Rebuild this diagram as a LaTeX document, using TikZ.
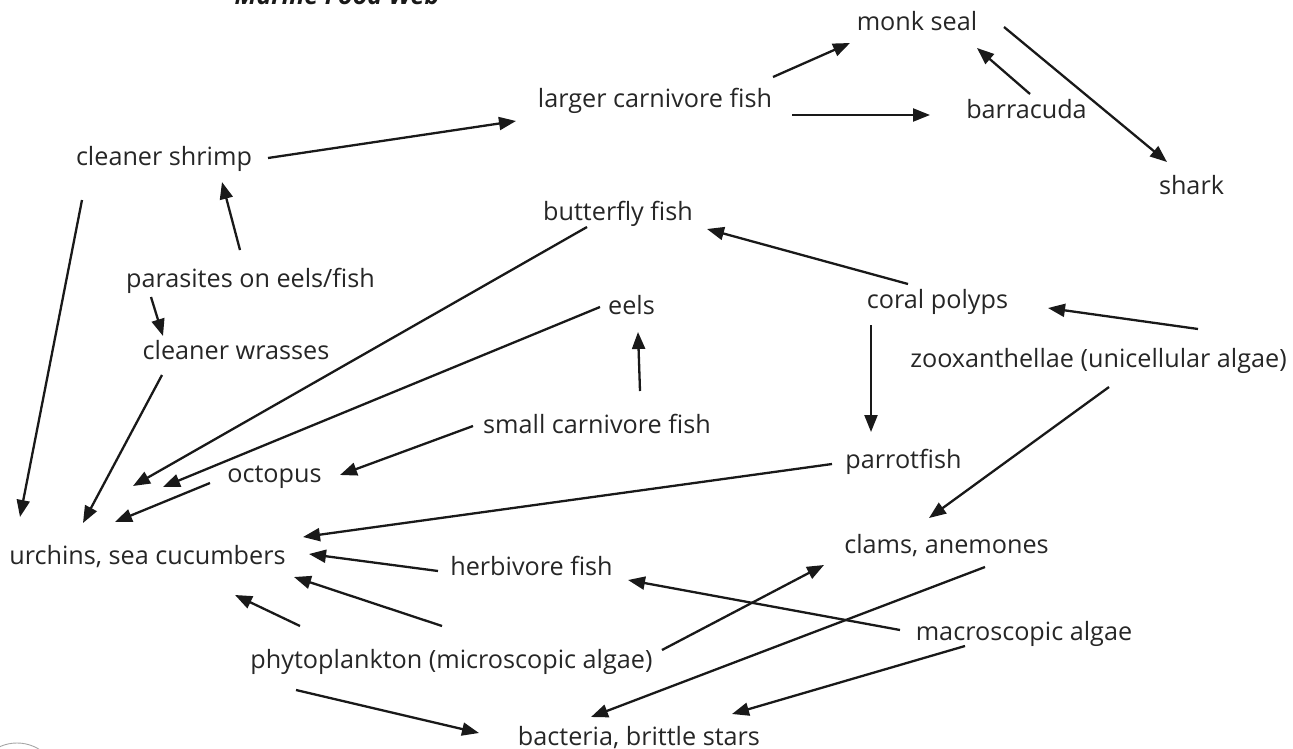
\documentclass[tikz,border=0pt]{standalone}
\usepackage{fontspec}
\setmainfont{Open Sans}
\usetikzlibrary{calc,arrows.meta}

\begin{document}
\begin{tikzpicture}[
  x=1pt,y=-1pt,
  >={Triangle[length=17pt,width=13pt]},
  species/.style={anchor=base, inner sep=0pt, font=\fontsize{25.2}{27}\selectfont, text=black!85},
  heading/.style={anchor=base, inner sep=0pt, font=\fontsize{25}{27}\selectfont\bfseries\itshape, text=black!90},
  feeds/.style={->, line width=2.3pt, draw=black!90}
]

% Page frame
\useasboundingbox (0,0) rectangle (1293,749);

% Title, cut off at the top of the page
\node[heading] (title) at (337,5) {Marine Food Web};

% Species
\node[species] (seal)   at (917,31)    {monk seal};
\node[species] (lcf)    at (655,108)   {larger carnivore fish};
\node[species] (barr)   at (1026.5,119) {barracuda};
\node[species] (shark)  at (1191.5,194) {shark};
\node[species] (shrimp) at (164,165)   {cleaner shrimp};
\node[species] (bfly)   at (618,220)   {butterfly fish};
\node[species] (paras)  at (250.5,287) {parasites on eels/fish};
\node[species] (wrasse) at (236,359)   {cleaner wrasses};
\node[species] (eels)   at (631.5,314) {eels};
\node[species] (coral)  at (937.5,308) {coral polyps};
\node[species] (zoox)   at (1098.5,367) {zooxanthellae (unicellular algae)};
\node[species] (scf)    at (597,433)   {small carnivore fish};
\node[species] (octo)   at (274.5,482) {octopus};
\node[species] (parrot) at (903.5,468) {parrotfish};
\node[species] (urch)   at (147.5,564) {urchins, sea cucumbers};
\node[species] (clams)  at (946.5,553) {clams, anemones};
\node[species] (herb)   at (531.5,575) {herbivore fish};
\node[species] (macro)  at (1024,640)  {macroscopic algae};
\node[species] (phyto)  at (451.5,668) {phytoplankton (microscopic algae)};
\node[species] (bact)   at (639,745)   {bacteria, brittle stars};

% Top predators
\draw[feeds] ($(lcf.base)+(118,-31)$) -- ($(seal.base)+(-67,12)$);
\draw[feeds] ($(lcf.base)+(137,7)$) -- ($(barr.base)+(-96.5,-4)$);
\draw[feeds] ($(barr.base)+(3.5,-25)$) -- ($(seal.base)+(60,17)$);
\draw[feeds] ($(seal.base)+(87,-4)$) -- ($(shark.base)+(-24.5,-32)$);
\draw[feeds] ($(shrimp.base)+(104,-7)$) -- ($(lcf.base)+(-139,13)$);

% Cleaners and parasites
\draw[feeds] ($(shrimp.base)+(-82,35)$) -- ($(urch.base)+(-127.5,-47)$);
\draw[feeds] ($(paras.base)+(-10.5,-37)$) -- ($(shrimp.base)+(58,17)$);
\draw[feeds] ($(paras.base)+(-99.5,10)$) -- ($(wrasse.base)+(-73,-23)$);
\draw[feeds] ($(wrasse.base)+(-74,16)$) -- ($(urch.base)+(-64.5,-41)$);

% Fish and octopus to the urchins
\draw[feeds] ($(bfly.base)+(-31,7)$) -- ($(urch.base)+(-14.5,-78)$);
\draw[feeds] ($(eels.base)+(-31.5,-7)$) -- ($(urch.base)+(15.5,-77)$);
\draw[feeds] ($(octo.base)+(-64.5,1)$) -- ($(urch.base)+(-32.5,-42)$);
\draw[feeds] ($(scf.base)+(-124,-7)$) -- ($(octo.base)+(65.5,-7)$);
\draw[feeds] ($(scf.base)+(43,-42)$) -- ($(eels.base)+(6.5,18)$);

% Reef
\draw[feeds] ($(coral.base)+(-29.5,-24)$) -- ($(bfly.base)+(89,9)$);
\draw[feeds] ($(coral.base)+(-66.5,17)$) -- ($(parrot.base)+(-32.5,-36)$);
\draw[feeds] ($(zoox.base)+(99.5,-38)$) -- ($(coral.base)+(110.5,0)$);
\draw[feeds] ($(zoox.base)+(10.5,20)$) -- ($(clams.base)+(-17.5,-35)$);
\draw[feeds] ($(parrot.base)+(-71.5,-4)$) -- ($(urch.base)+(155.5,-27)$);
\draw[feeds] ($(herb.base)+(-93.5,-4)$) -- ($(urch.base)+(161.5,-10)$);

% Producers and decomposers
\draw[feeds] ($(phyto.base)+(-151.5,-42)$) -- ($(urch.base)+(87.5,31)$);
\draw[feeds] ($(phyto.base)+(-9.5,-42)$) -- ($(urch.base)+(146.5,13)$);
\draw[feeds] ($(phyto.base)+(210.5,-18)$) -- ($(clams.base)+(-122.5,12)$);
\draw[feeds] ($(phyto.base)+(-155.5,22)$) -- ($(bact.base)+(-160,-12)$);
\draw[feeds] ($(macro.base)+(-124,-10)$) -- ($(herb.base)+(96.5,5)$);
\draw[feeds] ($(clams.base)+(38.5,14)$) -- ($(bact.base)+(-48,-28)$);
\draw[feeds] ($(macro.base)+(-59,6)$) -- ($(bact.base)+(93,-31)$);

% Stray mark at the page corner
\draw[black!35, line width=0.9pt] (17,785) circle (42);

\end{tikzpicture}
\end{document}
